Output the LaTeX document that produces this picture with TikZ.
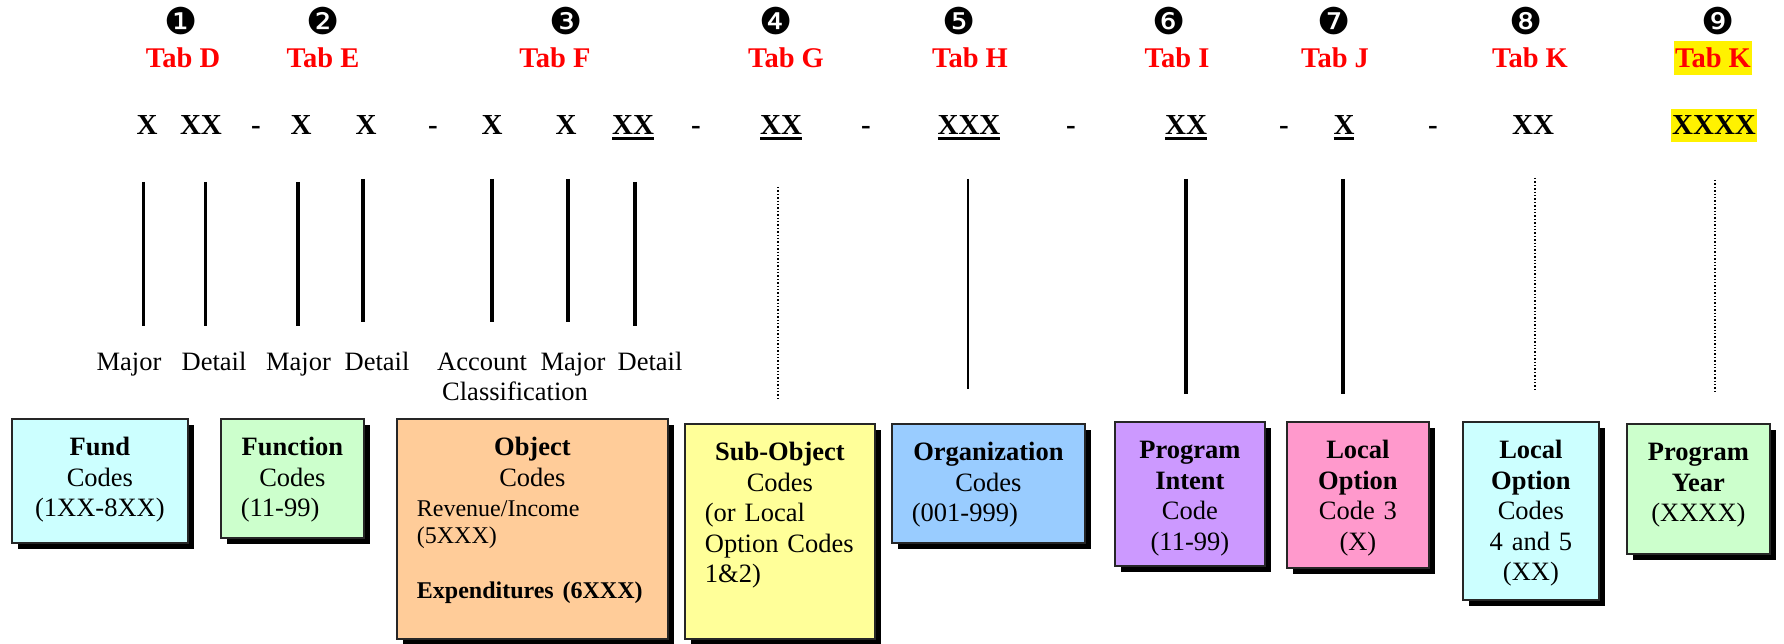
\documentclass[tikz,border=0pt]{standalone}
\usepackage{fontspec}
\setmainfont{Liberation Serif}
\newfontfamily\dingfont{DejaVu Sans}
\usetikzlibrary{shadows}

\definecolor{fundcyan}{HTML}{CCFFFF}
\definecolor{funcgreen}{HTML}{CCFFCC}
\definecolor{objorange}{HTML}{FFCC99}
\definecolor{subyellow}{HTML}{FFFF99}
\definecolor{orgblue}{HTML}{99CCFF}
\definecolor{intentviolet}{HTML}{CC99FF}
\definecolor{localpink}{HTML}{FF99CC}

% thick underline under the code digits, left aligned line in a centred box
\newcommand{\thickul}[1]{\setbox0=\hbox{#1}\rlap{\rule[-5.5pt]{\wd0}{3.5pt}}\box0}
\newcommand{\lline}[1]{#1\hskip 0pt plus 1filll\null}

\begin{document}
\begin{tikzpicture}[
    x=1pt, y=-1pt,
    % --- STYLES ---
    num/.style={font=\dingfont\fontsize{37}{37}\selectfont, inner sep=0pt},
    tab/.style={font=\bfseries\fontsize{28.5}{30}\selectfont, text=red, inner sep=0pt, anchor=base},
    digit/.style={font=\bfseries\fontsize{29}{30}\selectfont, inner sep=0pt, anchor=base},
    part/.style={font=\fontsize{26.5}{30}\selectfont, inner sep=0pt, anchor=base},
    hilite/.style={fill=yellow, inner xsep=1.5pt, inner ysep=7pt},
    bar/.style={line width=3.2pt},
    guide/.style={line width=1.4pt, dash pattern=on 1.4pt off 2pt},
    codebox/.style={
            draw=black!85,
            line width=1.8pt,
            anchor=north west,
            align=center,
            inner xsep=20pt,
            inner ysep=0pt,
            text height=37pt,
            font=\fontsize{26.5}{30.5}\selectfont,
            drop shadow={shadow xshift=6pt, shadow yshift=-6pt, opacity=1, fill=black}
        }
    ]
    \useasboundingbox (0,0) rectangle (1784,644);

    % --- NUMBERS AND TABS ---
    \node[num] (num1) at (181,21) {❶};
    \node[num] (num2) at (323,21) {❷};
    \node[num] (num3) at (566,21) {❸};
    \node[num] (num4) at (776,21) {❹};
    \node[num] (num5) at (959,21) {❺};
    \node[num] (num6) at (1169,21) {❻};
    \node[num] (num7) at (1334,21) {❼};
    \node[num] (num8) at (1526,21) {❽};
    \node[num] (num9) at (1718,21) {❾};

    \node[tab] (tabD) at (183,68) {Tab D};
    \node[tab] (tabE) at (323,68) {Tab E};
    \node[tab] (tabF) at (555,68) {Tab F};
    \node[tab] (tabG) at (786,68) {Tab G};
    \node[tab] (tabH) at (970,68) {Tab H};
    \node[tab] (tabI) at (1177,68) {Tab I};
    \node[tab] (tabJ) at (1335,68) {Tab J};
    \node[tab] (tabK) at (1530,68) {Tab K};
    \node[tab, hilite] (tabKyear) at (1713,68) {Tab K};

    % --- CODE STRING ---
    \node[digit] (fundMajor) at (147,135) {X};
    \node[digit] (fundDetail) at (201,135) {XX};
    \node[digit] (dash1) at (256,135) {-};
    \node[digit] (funcMajor) at (301,135) {X};
    \node[digit] (funcDetail) at (366,135) {X};
    \node[digit] (dash2) at (433,135) {-};
    \node[digit] (objAccount) at (492,135) {X};
    \node[digit] (objMajor) at (566,135) {X};
    \node[digit] (objDetail) at (633,135) {\thickul{XX}};
    \node[digit] (dash3) at (696,135) {-};
    \node[digit] (subCode) at (781,135) {\thickul{XX}};
    \node[digit] (dash4) at (866,135) {-};
    \node[digit] (orgCode) at (969,135) {\thickul{XXX}};
    \node[digit] (dash5) at (1071,135) {-};
    \node[digit] (intentCode) at (1186,135) {\thickul{XX}};
    \node[digit] (dash6) at (1284,135) {-};
    \node[digit] (localJCode) at (1344,135) {\thickul{X}};
    \node[digit] (dash7) at (1433,135) {-};
    \node[digit] (localKCode) at (1533,135) {XX};
    \node[digit, hilite, inner xsep=0.7pt, inner ysep=7.5pt] (yearCode) at (1714,135) {XXXX};

    % --- BARS ---
    \draw[bar] (143.5,182) -- (143.5,326);
    \draw[bar] (205.5,182) -- (205.5,326);
    \draw[bar] (298,182) -- (298,326);
    \draw[bar] (363,179) -- (363,322);
    \draw[bar] (492,179) -- (492,322);
    \draw[bar] (568,179) -- (568,322);
    \draw[bar] (635,182) -- (635,326);
    \draw[guide] (778,187) -- (778,398);
    \draw[bar, line width=2.8pt] (968,179) -- (968,389);
    \draw[bar] (1186,179) -- (1186,394);
    \draw[bar] (1343,179) -- (1343,394);
    \draw[guide] (1535,178) -- (1535,392);
    \draw[guide] (1715,180) -- (1715,394);

    % --- PART LABELS ---
    \node[part] (lblMajorD) at (129,370) {Major};
    \node[part] (lblDetailD) at (214,370) {Detail};
    \node[part] (lblMajorE) at (298.5,370) {Major};
    \node[part] (lblDetailE) at (377,370) {Detail};
    \node[part, anchor=base west] (lblAccount) at (437,370) {Account};
    \node[part, anchor=base west] (lblClass) at (442,400) {Classification};
    \node[part] (lblMajorF) at (573,370) {Major};
    \node[part] (lblDetailF) at (650,370) {Detail};

    % --- CODE BOXES ---
    \node[codebox, fill=fundcyan, text width=136pt, text depth=87pt] (fund) at (11,418)
        {\textbf{Fund}\\Codes\\(1XX-8XX)};
    \node[codebox, fill=funcgreen, text width=103pt, text depth=82pt] (function) at (220,418)
        {\textbf{Function}\\Codes\\\lline{(11-99)}};
    \node[codebox, fill=objorange, text width=231pt, text depth=183pt] (object) at (396,418)
        {\textbf{Object}\\Codes\\{\fontsize{24}{27}\selectfont\lline{Revenue/Income}}\\[-3.5pt]%
         {\fontsize{24}{27}\selectfont\lline{(5XXX)}}\\[24pt]%
         {\fontsize{24}{27}\selectfont\lline{\textbf{Expenditures (6XXX)}}}};
    \node[codebox, fill=subyellow, text width=150pt, text depth=178pt] (subobject) at (684,423)
        {\textbf{Sub-Object}\\Codes\\\lline{(or Local}\\\lline{Option Codes}\\\lline{1\&2)}};
    \node[codebox, fill=orgblue, text width=153pt, text depth=82pt] (organization) at (891,423)
        {\textbf{Organization}\\Codes\\\lline{(001-999)}};
    \node[codebox, fill=intentviolet, text width=110pt, text depth=107pt] (intent) at (1114,421)
        {\textbf{Program}\\\textbf{Intent}\\Code\\(11-99)};
    \node[codebox, fill=localpink, text width=102pt, text depth=109pt] (localJ) at (1286,421)
        {\textbf{Local}\\\textbf{Option}\\Code 3\\(X)};
    \node[codebox, fill=fundcyan, text width=96pt, text depth=141pt] (localK) at (1462,421)
        {\textbf{Local}\\\textbf{Option}\\Codes\\4 and 5\\(XX)};
    \node[codebox, fill=funcgreen, text width=103pt, text depth=93pt] (year) at (1626,423)
        {\textbf{Program}\\\textbf{Year}\\(XXXX)};

\end{tikzpicture}
\end{document}
